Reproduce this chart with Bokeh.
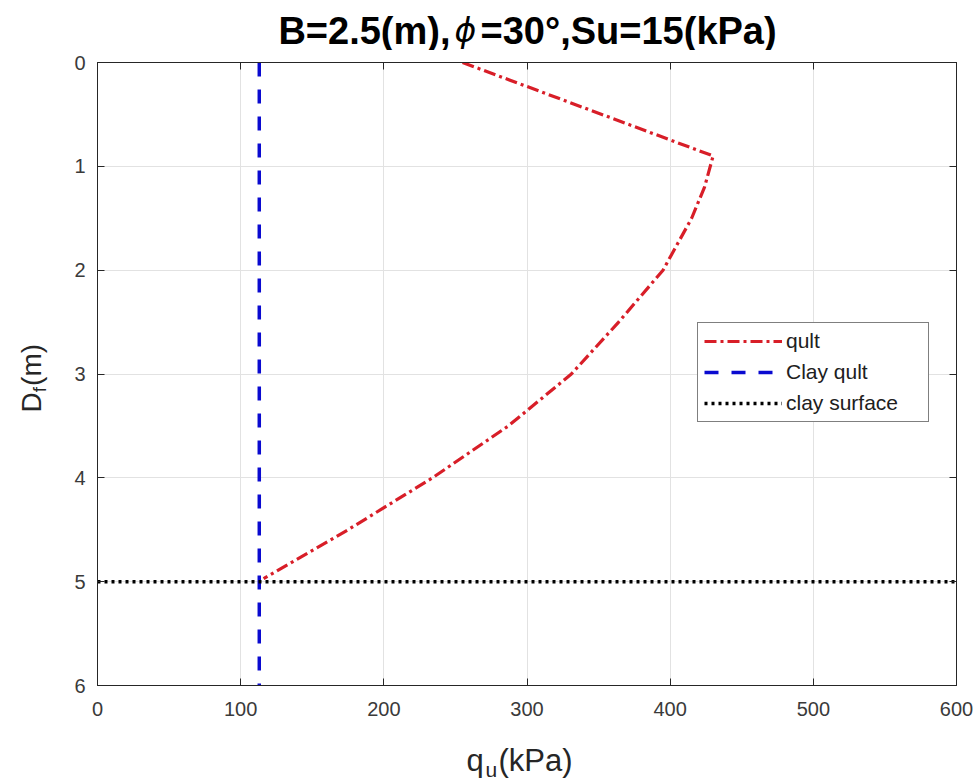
import math
from bokeh.plotting import figure
from bokeh.models import Range1d, Legend, LegendItem, LinearAxis, FixedTicker, CustomJSTickFormatter
from bokeh.layouts import column, row
from bokeh.core.properties import value
from bokeh.embed import file_html
from bokeh.resources import INLINE

# ---- data ----
depth_m = [0.0, 0.9, 1.2, 1.5, 2.0, 2.5, 3.0, 3.5, 4.0, 4.5, 4.97]
qult_kpa = [255, 430, 424, 415, 395, 364, 331, 287, 234, 175, 116]

clay_qult_kpa = [113, 113]
clay_qult_depth = [0, 6]

clay_surface_kpa = [0, 600]
clay_surface_depth = [5, 5]

x_ticks = [0, 100, 200, 300, 400, 500, 600]
y_ticks = [0, 1, 2, 3, 4, 5, 6]

title_parts = ["B=2.5(m),", "ϕ", "=30°,Su=15(kPa)"]
xlabel_parts = ["q", "u", "(kPa)"]
ylabel_parts = ["D", "f", "(m)"]

FONT = "Liberation Sans"
AXC = "#262626"
TICKC = "#3a3a3a"

TOP_H = 50  # height of the title strip


def blank_fig(w, h, xr, yr):
    f = figure(width=w, height=h, x_range=Range1d(*xr), y_range=Range1d(*yr),
               output_backend="svg", toolbar_location=None, x_axis_type=None, y_axis_type=None,
               min_border=0, min_border_left=0, min_border_right=0, min_border_top=0,
               min_border_bottom=0)
    f.outline_line_color = None
    f.grid.visible = False
    f.background_fill_color = "white"
    f.border_fill_color = "white"
    return f


# ---- main plot ----
p = figure(width=920, height=730 - TOP_H, x_range=Range1d(0, 600), y_range=Range1d(6, 0),
           output_backend="svg", toolbar_location=None,
           min_border_left=37, min_border_right=24, min_border_top=62 - TOP_H, min_border_bottom=45)
p.background_fill_color = "white"
p.border_fill_color = "white"
p.outline_line_color = AXC
p.outline_line_width = 1

for ax in (p.xaxis[0], p.yaxis[0]):
    ax.axis_line_color = AXC
    ax.major_tick_line_color = AXC
    ax.major_tick_in = 7
    ax.major_tick_out = 0
    ax.minor_tick_line_color = None
    ax.major_label_text_font = FONT
    ax.major_label_text_font_size = "20px"
    ax.major_label_text_color = TICKC
p.xaxis[0].ticker = FixedTicker(ticks=x_ticks)
p.yaxis[0].ticker = FixedTicker(ticks=y_ticks)
p.xaxis[0].major_label_standoff = 16
p.yaxis[0].major_label_standoff = 12

top_ax = LinearAxis(ticker=FixedTicker(ticks=x_ticks), major_tick_in=7, major_tick_out=0,
                    formatter=CustomJSTickFormatter(code="return ''"), minor_tick_line_color=None,
                    major_label_standoff=0, axis_line_color=AXC, major_tick_line_color=AXC)
right_ax = LinearAxis(ticker=FixedTicker(ticks=y_ticks), major_tick_in=7, major_tick_out=0,
                      formatter=CustomJSTickFormatter(code="return ''"), minor_tick_line_color=None,
                      major_label_standoff=0, axis_line_color=AXC, major_tick_line_color=AXC)
p.add_layout(top_ax, "above")
p.add_layout(right_ax, "right")

p.xgrid.ticker = FixedTicker(ticks=x_ticks)
p.ygrid.ticker = FixedTicker(ticks=y_ticks)
p.grid.grid_line_color = "#e2e2e2"
p.grid.grid_line_width = 1

r_q = p.line(qult_kpa, depth_m, line_color="#d81e28", line_width=3.2, line_dash="12 4 3 4")
r_c = p.line(clay_qult_kpa, clay_qult_depth, line_color="#0a0ad0", line_width=3.5, line_dash="14 13")
r_s = p.line(clay_surface_kpa, clay_surface_depth, line_color="black", line_width=3.5, line_dash="3 4")

legend = Legend(items=[LegendItem(label="qult", renderers=[r_q]),
                       LegendItem(label="Clay qult", renderers=[r_c]),
                       LegendItem(label="clay surface", renderers=[r_s])],
                location=(600, 263), border_line_color="black", border_line_width=1,
                background_fill_color="white", background_fill_alpha=1.0,
                label_text_font=FONT, label_text_font_size="21px", label_text_color="#202020",
                glyph_width=78, glyph_height=24, label_height=24, label_width=136,
                spacing=7, padding=6, label_standoff=4, margin=0)
p.add_layout(legend)

# ---- title strip (canvas pixels 0..TOP_H, y downward) ----
t = blank_fig(980, TOP_H, (0, 980), (TOP_H, 0))
t.text(x=[450], y=[30], text=[title_parts[0]], text_font=value(FONT), text_font_size="38px",
       text_font_style="bold", text_align="right", text_baseline="alphabetic", text_color="black")
t.text(x=[465], y=[30], text=[title_parts[1]], text_font=value("DejaVu Sans"), text_font_size="33px",
       text_font_style="italic", text_align="center", text_baseline="alphabetic", text_color="black")
t.text(x=[480], y=[30], text=[title_parts[2]], text_font=value(FONT), text_font_size="38px",
       text_font_style="bold", text_align="left", text_baseline="alphabetic", text_color="black")

# ---- y label strip (canvas pixels TOP_H..730) ----
yl = blank_fig(60, 730 - TOP_H, (0, 60), (730, TOP_H))
yl.text(x=[31], y=[432], text=[ylabel_parts[0]], text_font=value(FONT), text_font_size="28px",
        text_align="left", text_baseline="alphabetic", angle=math.pi / 2, text_color=AXC)
yl.text(x=[39], y=[410], text=[ylabel_parts[1]], text_font=value(FONT), text_font_size="19px",
        text_align="left", text_baseline="alphabetic", angle=math.pi / 2, text_color=AXC)
yl.text(x=[31], y=[403], text=[ylabel_parts[2]], text_font=value(FONT), text_font_size="28px",
        text_align="left", text_baseline="alphabetic", angle=math.pi / 2, text_color=AXC)

# ---- x label strip (canvas pixels 730..782) ----
xl = blank_fig(980, 52, (0, 980), (782, 730))
xl.text(x=[466], y=[760], text=[xlabel_parts[0]], text_font=value(FONT), text_font_size="31px",
        text_align="left", text_baseline="alphabetic", text_color=AXC)
xl.text(x=[485], y=[769], text=[xlabel_parts[1]], text_font=value(FONT), text_font_size="21px",
        text_align="left", text_baseline="alphabetic", text_color=AXC)
xl.text(x=[498], y=[760], text=[xlabel_parts[2]], text_font=value(FONT), text_font_size="31px",
        text_align="left", text_baseline="alphabetic", text_color=AXC)

layout = column(t, row(yl, p, spacing=0), xl, spacing=0)

open("out.html", "w").write(file_html(layout, INLINE))
